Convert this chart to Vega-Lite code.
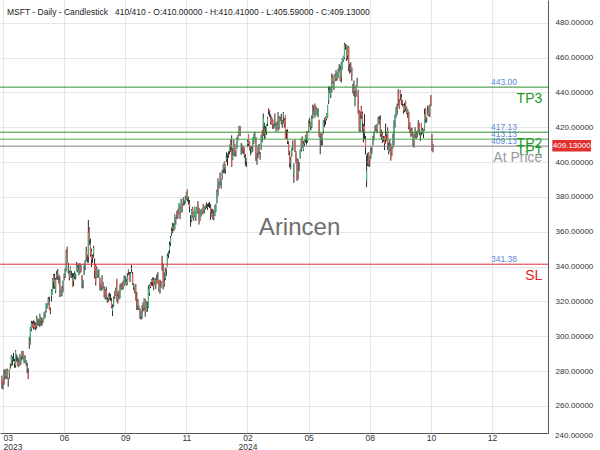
{
"$schema": "https://vega.github.io/schema/vega-lite/v6.json",
"width": 548,
"height": 433,
"autosize": {"type": "none"},
"padding": {"left": 0, "top": 0, "right": 52, "bottom": 17},
"background": "white",
"config": {"view": {"stroke": null}, "font": "Liberation Sans",
"axisY": {"orient": "right", "values": [260, 280, 300, 320, 340, 360, 380, 400, 420, 440, 460, 480], "format": ".5f", "labelFontSize": 8, "labelColor": "#333", "labelPadding": 7, "ticks": false, "domainColor": "#555", "grid": true, "gridColor": "#e6e6e6", "labelOverlap": false, "tickCount": 13}},
"title": {"text": "MSFT - Daily - Candlestick\u00a0\u00a0\u00a0410/410 - O:410.00000 - H:410.41000 - L:405.59000 - C:409.13000", "anchor": "start", "frame": "group", "orient": "top", "offset": -13, "dy": 10, "baseline": "alphabetic", "fontSize": 8.5, "fontWeight": "normal", "color": "#222", "dx": 7},
"datasets": {
"levels": [
{"name": "TP3", "v": 443.00},
{"name": "TP2", "v": 417.13},
{"name": "TP1", "v": 413.13},
{"name": "At Price", "v": 409.13},
{"name": "SL", "v": 341.38}
],
"last": [{"c": 409.13}],
"edge": [{"v": 240}],
"bars": [
{"i":0,"o":276.0,"h":277.5,"l":269.9,"c":272.2},
{"i":1,"o":274.9,"h":275.0,"l":269.5,"c":273.8},
{"i":2,"o":273.4,"h":281.0,"l":272.2,"c":272.3},
{"i":3,"o":277.9,"h":281.1,"l":275.2,"c":277.7},
{"i":4,"o":277.2,"h":281.0,"l":275.8,"c":280.6},
{"i":5,"o":280.5,"h":281.5,"l":275.5,"c":276.4},
{"i":6,"o":275.8,"h":276.1,"l":271.0,"c":275.2},
{"i":7,"o":278.6,"h":281.1,"l":275.6,"c":280.5},
{"i":8,"o":284.2,"h":284.5,"l":281.4,"c":284.1},
{"i":9,"o":283.7,"h":289.3,"l":283.0,"c":288.3},
{"i":10,"o":286.5,"h":288.3,"l":283.3,"c":287.2},
{"i":11,"o":287.2,"h":290.5,"l":285.7,"c":287.2},
{"i":12,"o":285.8,"h":287.1,"l":282.0,"c":284.3},
{"i":13,"o":283.2,"h":292.1,"l":282.0,"c":291.6},
{"i":14,"o":289.2,"h":289.6,"l":285.4,"c":289.4},
{"i":15,"o":285.9,"h":288.4,"l":283.1,"c":282.8},
{"i":16,"o":284.8,"h":287.2,"l":282.3,"c":283.5},
{"i":17,"o":283.6,"h":289.9,"l":283.2,"c":289.8},
{"i":18,"o":287.0,"h":288.5,"l":283.7,"c":286.1},
{"i":19,"o":289.9,"h":291.6,"l":286.2,"c":288.8},
{"i":20,"o":291.6,"h":291.6,"l":286.9,"c":288.4},
{"i":21,"o":285.9,"h":289.1,"l":284.5,"c":288.5},
{"i":22,"o":285.3,"h":289.0,"l":284.8,"c":286.1},
{"i":23,"o":285.0,"h":286.3,"l":283.1,"c":285.8},
{"i":24,"o":282.1,"h":284.9,"l":278.7,"c":281.8},
{"i":25,"o":279.5,"h":281.6,"l":275.4,"c":275.4},
{"i":26,"o":296.7,"h":299.6,"l":292.8,"c":295.4},
{"i":27,"o":295.9,"h":305.2,"l":295.3,"c":304.8},
{"i":28,"o":304.0,"h":308.9,"l":302.9,"c":307.3},
{"i":29,"o":306.9,"h":308.6,"l":305.1,"c":305.6},
{"i":30,"o":307.8,"h":309.2,"l":303.9,"c":305.4},
{"i":31,"o":306.6,"h":308.6,"l":304.1,"c":304.4},
{"i":32,"o":306.2,"h":307.8,"l":303.4,"c":305.4},
{"i":33,"o":305.7,"h":311.9,"l":304.3,"c":310.7},
{"i":34,"o":310.1,"h":310.2,"l":306.1,"c":308.7},
{"i":35,"o":308.0,"h":310.0,"l":306.1,"c":307.0},
{"i":36,"o":308.6,"h":313.0,"l":305.3,"c":312.3},
{"i":37,"o":310.1,"h":311.1,"l":306.3,"c":310.1},
{"i":38,"o":310.6,"h":310.7,"l":305.9,"c":309.0},
{"i":39,"o":309.1,"h":309.9,"l":307.6,"c":309.5},
{"i":40,"o":309.8,"h":313.7,"l":309.8,"c":311.7},
{"i":41,"o":312.3,"h":314.4,"l":310.7,"c":314.0},
{"i":42,"o":314.5,"h":319.0,"l":313.6,"c":318.5},
{"i":43,"o":316.7,"h":318.8,"l":316.0,"c":318.3},
{"i":44,"o":318.6,"h":322.6,"l":318.0,"c":321.2},
{"i":45,"o":320.0,"h":322.7,"l":315.3,"c":315.3},
{"i":46,"o":314.7,"h":316.5,"l":312.6,"c":313.9},
{"i":47,"o":323.2,"h":326.9,"l":320.0,"c":325.9},
{"i":48,"o":324.0,"h":333.4,"l":323.9,"c":332.9},
{"i":49,"o":335.2,"h":335.7,"l":327.3,"c":331.2},
{"i":50,"o":332.3,"h":335.9,"l":327.3,"c":328.4},
{"i":51,"o":325.9,"h":333.5,"l":324.7,"c":332.6},
{"i":52,"o":334.2,"h":337.5,"l":332.6,"c":335.4},
{"i":53,"o":335.2,"h":338.6,"l":332.3,"c":335.9},
{"i":54,"o":335.3,"h":335.4,"l":330.2,"c":333.7},
{"i":55,"o":331.6,"h":334.5,"l":322.5,"c":323.4},
{"i":56,"o":323.9,"h":326.6,"l":323.0,"c":325.3},
{"i":57,"o":324.0,"h":329.0,"l":322.9,"c":326.8},
{"i":58,"o":328.6,"h":332.0,"l":325.2,"c":331.9},
{"i":59,"o":334.5,"h":336.0,"l":332.0,"c":334.3},
{"i":60,"o":334.3,"h":339.0,"l":333.5,"c":337.3},
{"i":61,"o":337.5,"h":349.8,"l":337.2,"c":348.1},
{"i":62,"o":351.3,"h":351.5,"l":341.9,"c":342.3},
{"i":63,"o":339.3,"h":342.1,"l":335.9,"c":338.1},
{"i":64,"o":336.4,"h":337.7,"l":332.1,"c":333.6},
{"i":65,"o":334.1,"h":340.1,"l":333.8,"c":339.7},
{"i":66,"o":334.4,"h":337.5,"l":333.5,"c":335.0},
{"i":67,"o":333.7,"h":336.2,"l":328.5,"c":328.6},
{"i":68,"o":331.9,"h":336.2,"l":328.8,"c":334.6},
{"i":69,"o":334.7,"h":337.4,"l":332.8,"c":335.9},
{"i":70,"o":334.7,"h":336.1,"l":332.6,"c":335.1},
{"i":71,"o":337.8,"h":342.7,"l":337.3,"c":340.5},
{"i":72,"o":339.2,"h":340.9,"l":336.6,"c":338.0},
{"i":73,"o":335.1,"h":341.7,"l":335.0,"c":338.2},
{"i":74,"o":337.3,"h":342.0,"l":335.9,"c":341.3},
{"i":75,"o":339.3,"h":341.3,"l":336.8,"c":337.2},
{"i":76,"o":334.6,"h":335.2,"l":327.6,"c":331.8},
{"i":77,"o":331.1,"h":332.4,"l":327.5,"c":332.5},
{"i":78,"o":336.6,"h":341.7,"l":335.2,"c":337.2},
{"i":79,"o":339.6,"h":343.7,"l":338.0,"c":342.7},
{"i":80,"o":347.6,"h":351.4,"l":343.3,"c":345.2},
{"i":81,"o":345.7,"h":346.9,"l":342.2,"c":345.7},
{"i":82,"o":345.8,"h":366.8,"l":342.2,"c":359.5},
{"i":83,"o":361.8,"h":362.5,"l":352.4,"c":355.1},
{"i":84,"o":353.6,"h":356.0,"l":345.7,"c":346.9},
{"i":85,"o":349.2,"h":350.3,"l":339.8,"c":343.8},
{"i":86,"o":345.9,"h":346.9,"l":342.2,"c":345.1},
{"i":87,"o":347.1,"h":351.9,"l":345.1,"c":351.0},
{"i":88,"o":341.4,"h":344.7,"l":333.1,"c":337.8},
{"i":89,"o":340.5,"h":341.3,"l":329.1,"c":330.7},
{"i":90,"o":333.7,"h":340.0,"l":333.6,"c":338.4},
{"i":91,"o":336.9,"h":337.7,"l":333.4,"c":335.9},
{"i":92,"o":335.2,"h":338.5,"l":333.7,"c":336.3},
{"i":93,"o":333.6,"h":333.6,"l":326.4,"c":327.5},
{"i":94,"o":326.0,"h":329.9,"l":325.9,"c":326.7},
{"i":95,"o":331.9,"h":335.1,"l":326.6,"c":327.8},
{"i":96,"o":328.4,"h":331.1,"l":327.5,"c":330.1},
{"i":97,"o":326.9,"h":328.8,"l":322.3,"c":326.1},
{"i":98,"o":326.5,"h":327.1,"l":321.1,"c":322.2},
{"i":99,"o":326.0,"h":328.3,"l":321.2,"c":322.9},
{"i":100,"o":320.3,"h":322.4,"l":319.2,"c":321.0},
{"i":101,"o":321.4,"h":324.4,"l":319.8,"c":324.0},
{"i":102,"o":323.0,"h":325.1,"l":321.1,"c":321.9},
{"i":103,"o":320.8,"h":324.4,"l":320.1,"c":320.4},
{"i":104,"o":320.5,"h":321.9,"l":316.1,"c":316.9},
{"i":105,"o":314.5,"h":318.4,"l":311.6,"c":316.5},
{"i":106,"o":317.9,"h":322.8,"l":317.0,"c":321.9},
{"i":107,"o":325.5,"h":326.1,"l":321.5,"c":322.5},
{"i":108,"o":323.8,"h":327.9,"l":323.2,"c":327.0},
{"i":109,"o":332.9,"h":333.0,"l":320.0,"c":320.0},
{"i":110,"o":321.5,"h":325.4,"l":318.8,"c":323.0},
{"i":111,"o":325.7,"h":326.2,"l":321.1,"c":323.7},
{"i":112,"o":321.9,"h":329.8,"l":321.7,"c":328.4},
{"i":113,"o":328.7,"h":330.4,"l":326.5,"c":328.8},
{"i":114,"o":329.2,"h":330.9,"l":326.8,"c":327.8},
{"i":115,"o":331.3,"h":332.0,"l":326.8,"c":328.7},
{"i":116,"o":329.0,"h":334.9,"l":328.7,"c":333.6},
{"i":117,"o":333.4,"h":334.5,"l":330.2,"c":332.9},
{"i":118,"o":331.3,"h":333.1,"l":329.0,"c":329.9},
{"i":119,"o":330.1,"h":336.2,"l":329.5,"c":334.3},
{"i":120,"o":337.2,"h":338.4,"l":335.2,"c":337.9},
{"i":121,"o":335.8,"h":336.8,"l":331.5,"c":331.8},
{"i":122,"o":331.3,"h":336.9,"l":331.2,"c":336.1},
{"i":123,"o":339.2,"h":340.9,"l":336.6,"c":338.7},
{"i":124,"o":335.8,"h":336.9,"l":329.5,"c":330.2},
{"i":125,"o":327.8,"h":330.4,"l":326.4,"c":329.1},
{"i":126,"o":326.2,"h":329.0,"l":324.6,"c":328.7},
{"i":127,"o":329.5,"h":330.0,"l":320.5,"c":320.8},
{"i":128,"o":319.3,"h":325.4,"l":315.0,"c":319.5},
{"i":129,"o":321.3,"h":321.4,"l":315.2,"c":317.0},
{"i":130,"o":316.6,"h":317.7,"l":315.0,"c":317.5},
{"i":131,"o":315.1,"h":315.9,"l":310.0,"c":312.1},
{"i":132,"o":312.3,"h":314.3,"l":309.5,"c":312.8},
{"i":133,"o":311.0,"h":317.9,"l":310.0,"c":313.6},
{"i":134,"o":317.8,"h":319.5,"l":314.3,"c":315.8},
{"i":135,"o":316.3,"h":321.9,"l":315.0,"c":321.8},
{"i":136,"o":320.8,"h":321.4,"l":311.2,"c":313.4},
{"i":137,"o":314.0,"h":320.0,"l":314.0,"c":319.0},
{"i":138,"o":319.1,"h":320.0,"l":314.1,"c":319.4},
{"i":139,"o":316.6,"h":329.2,"l":316.3,"c":327.3},
{"i":140,"o":324.8,"h":330.0,"l":323.3,"c":329.8},
{"i":141,"o":330.9,"h":331.1,"l":327.7,"c":328.4},
{"i":142,"o":331.2,"h":332.8,"l":329.1,"c":332.4},
{"i":143,"o":332.4,"h":333.8,"l":328.7,"c":331.2},
{"i":144,"o":332.4,"h":333.8,"l":326.4,"c":327.7},
{"i":145,"o":331.0,"h":333.0,"l":329.5,"c":332.6},
{"i":146,"o":329.6,"h":333.6,"l":327.2,"c":332.1},
{"i":147,"o":332.5,"h":335.6,"l":330.0,"c":330.1},
{"i":148,"o":332.6,"h":336.9,"l":330.7,"c":331.3},
{"i":149,"o":331.7,"h":331.9,"l":325.5,"c":326.7},
{"i":150,"o":325.5,"h":332.5,"l":324.4,"c":329.3},
{"i":151,"o":331.3,"h":331.8,"l":327.6,"c":330.5},
{"i":152,"o":345.0,"h":346.2,"l":337.6,"c":340.7},
{"i":153,"o":340.5,"h":341.6,"l":326.9,"c":327.9},
{"i":154,"o":330.4,"h":336.7,"l":328.3,"c":329.8},
{"i":155,"o":333.4,"h":339.4,"l":332.2,"c":337.3},
{"i":156,"o":338.9,"h":339.0,"l":334.7,"c":338.1},
{"i":157,"o":339.8,"h":347.4,"l":339.7,"c":346.1},
{"i":158,"o":347.2,"h":348.8,"l":344.8,"c":348.3},
{"i":159,"o":349.6,"h":354.4,"l":347.3,"c":352.8},
{"i":160,"o":353.5,"h":357.5,"l":351.8,"c":356.5},
{"i":161,"o":359.4,"h":362.5,"l":357.6,"c":360.5},
{"i":162,"o":361.7,"h":365.2,"l":359.3,"c":363.2},
{"i":163,"o":362.3,"h":364.8,"l":360.4,"c":360.7},
{"i":164,"o":361.5,"h":370.1,"l":361.2,"c":369.7},
{"i":165,"o":368.2,"h":368.5,"l":364.0,"c":366.7},
{"i":166,"o":371.0,"h":371.9,"l":367.3,"c":370.3},
{"i":167,"o":371.3,"h":373.1,"l":367.6,"c":369.7},
{"i":168,"o":371.0,"h":376.4,"l":370.2,"c":376.2},
{"i":169,"o":373.6,"h":374.4,"l":367.2,"c":369.9},
{"i":170,"o":371.2,"h":378.9,"l":371.0,"c":377.4},
{"i":171,"o":375.7,"h":376.2,"l":371.1,"c":373.1},
{"i":172,"o":378.0,"h":379.8,"l":375.0,"c":377.9},
{"i":173,"o":377.3,"h":378.0,"l":375.1,"c":377.4},
{"i":174,"o":376.8,"h":380.6,"l":376.2,"c":378.6},
{"i":175,"o":378.4,"h":383.0,"l":378.2,"c":382.7},
{"i":176,"o":383.8,"h":384.3,"l":377.4,"c":378.9},
{"i":177,"o":378.5,"h":380.1,"l":375.5,"c":378.9},
{"i":178,"o":376.8,"h":378.2,"l":371.2,"c":374.5},
{"i":179,"o":369.1,"h":369.5,"l":362.9,"c":369.1},
{"i":180,"o":366.5,"h":373.1,"l":365.6,"c":372.5},
{"i":181,"o":373.5,"h":374.2,"l":368.0,"c":368.8},
{"i":182,"o":368.2,"h":371.5,"l":366.4,"c":371.0},
{"i":183,"o":369.2,"h":374.5,"l":368.5,"c":374.2},
{"i":184,"o":368.5,"h":371.6,"l":366.1,"c":371.3},
{"i":185,"o":370.9,"h":374.4,"l":370.5,"c":374.4},
{"i":186,"o":376.0,"h":377.6,"l":370.3,"c":374.4},
{"i":187,"o":373.3,"h":373.8,"l":364.1,"c":365.9},
{"i":188,"o":366.9,"h":372.4,"l":366.3,"c":370.7},
{"i":189,"o":369.5,"h":373.0,"l":368.7,"c":372.7},
{"i":190,"o":371.5,"h":373.3,"l":369.8,"c":373.3},
{"i":191,"o":375.0,"h":376.0,"l":370.5,"c":370.6},
{"i":192,"o":372.6,"h":374.4,"l":370.5,"c":373.5},
{"i":193,"o":373.7,"h":375.2,"l":372.7,"c":374.6},
{"i":194,"o":375.0,"h":376.9,"l":373.5,"c":374.7},
{"i":195,"o":373.7,"h":376.0,"l":372.5,"c":374.1},
{"i":196,"o":375.4,"h":376.5,"l":374.2,"c":375.3},
{"i":197,"o":376.0,"h":377.2,"l":373.5,"c":376.0},
{"i":198,"o":373.9,"h":375.9,"l":366.8,"c":370.9},
{"i":199,"o":369.0,"h":373.3,"l":368.7,"c":370.6},
{"i":200,"o":370.7,"h":373.1,"l":367.2,"c":367.9},
{"i":201,"o":369.0,"h":372.1,"l":366.5,"c":367.8},
{"i":202,"o":369.3,"h":375.2,"l":369.0,"c":374.7},
{"i":203,"o":372.0,"h":376.0,"l":371.2,"c":375.8},
{"i":204,"o":376.4,"h":384.2,"l":376.3,"c":382.8},
{"i":205,"o":386.0,"h":390.7,"l":380.4,"c":384.6},
{"i":206,"o":385.5,"h":388.7,"l":384.7,"c":388.5},
{"i":207,"o":393.7,"h":394.0,"l":386.5,"c":390.3},
{"i":208,"o":388.0,"h":390.1,"l":384.8,"c":389.5},
{"i":209,"o":391.7,"h":395.4,"l":389.9,"c":393.9},
{"i":210,"o":395.8,"h":398.7,"l":393.6,"c":398.7},
{"i":211,"o":400.0,"h":400.4,"l":393.6,"c":396.5},
{"i":212,"o":395.8,"h":399.0,"l":393.3,"c":398.9},
{"i":213,"o":401.5,"h":405.6,"l":400.0,"c":402.6},
{"i":214,"o":404.3,"h":404.7,"l":398.0,"c":404.9},
{"i":215,"o":404.4,"h":406.2,"l":402.5,"c":403.9},
{"i":216,"o":406.1,"h":410.0,"l":404.4,"c":409.7},
{"i":217,"o":412.3,"h":413.0,"l":405.8,"c":408.6},
{"i":218,"o":407.0,"h":415.3,"l":397.2,"c":397.6},
{"i":219,"o":401.8,"h":408.0,"l":401.1,"c":403.8},
{"i":220,"o":403.8,"h":412.7,"l":403.6,"c":411.2},
{"i":221,"o":409.9,"h":410.4,"l":403.4,"c":405.7},
{"i":222,"o":405.9,"h":407.0,"l":403.0,"c":405.5},
{"i":223,"o":407.4,"h":414.3,"l":407.4,"c":414.1},
{"i":224,"o":414.1,"h":415.6,"l":412.5,"c":414.1},
{"i":225,"o":415.3,"h":420.8,"l":415.1,"c":420.6},
{"i":226,"o":420.6,"h":420.7,"l":414.8,"c":415.3},
{"i":227,"o":404.9,"h":411.0,"l":404.2,"c":406.3},
{"i":228,"o":408.1,"h":410.0,"l":405.0,"c":409.5},
{"i":229,"o":408.1,"h":409.1,"l":404.6,"c":406.6},
{"i":230,"o":408.0,"h":408.3,"l":402.4,"c":404.1},
{"i":231,"o":403.2,"h":404.5,"l":398.0,"c":402.8},
{"i":232,"o":400.2,"h":402.3,"l":397.2,"c":402.2},
{"i":233,"o":410.2,"h":412.8,"l":408.6,"c":411.7},
{"i":234,"o":415.7,"h":415.9,"l":409.0,"c":410.3},
{"i":235,"o":411.5,"h":412.0,"l":406.8,"c":407.5},
{"i":236,"o":408.0,"h":409.0,"l":403.9,"c":407.5},
{"i":237,"o":405.9,"h":409.3,"l":405.3,"c":407.7},
{"i":238,"o":408.6,"h":414.2,"l":405.9,"c":413.6},
{"i":239,"o":411.3,"h":415.9,"l":410.4,"c":415.5},
{"i":240,"o":413.4,"h":417.4,"l":412.5,"c":414.9},
{"i":241,"o":414.0,"h":414.3,"l":400.6,"c":402.7},
{"i":242,"o":403.0,"h":405.2,"l":398.4,"c":402.1},
{"i":243,"o":406.1,"h":409.8,"l":402.2,"c":409.1},
{"i":244,"o":408.0,"h":410.4,"l":404.3,"c":406.2},
{"i":245,"o":403.8,"h":405.7,"l":401.3,"c":404.5},
{"i":246,"o":407.6,"h":415.6,"l":407.0,"c":415.3},
{"i":247,"o":418.1,"h":418.2,"l":411.4,"c":415.1},
{"i":248,"o":420.2,"h":427.8,"l":415.0,"c":425.2},
{"i":249,"o":419.3,"h":422.6,"l":412.8,"c":416.4},
{"i":250,"o":414.3,"h":420.7,"l":413.8,"c":417.3},
{"i":251,"o":417.8,"h":421.7,"l":415.6,"c":421.4},
{"i":252,"o":422.0,"h":426.0,"l":420.7,"c":425.2},
{"i":253,"o":429.8,"h":430.8,"l":427.2,"c":429.4},
{"i":254,"o":429.7,"h":429.9,"l":425.9,"c":428.7},
{"i":255,"o":425.2,"h":427.4,"l":421.6,"c":422.9},
{"i":256,"o":425.6,"h":426.0,"l":421.5,"c":421.7},
{"i":257,"o":424.4,"h":424.5,"l":419.0,"c":421.4},
{"i":258,"o":421.0,"h":421.9,"l":419.1,"c":420.7},
{"i":259,"o":424.0,"h":427.9,"l":420.4,"c":424.6},
{"i":260,"o":420.1,"h":422.4,"l":417.5,"c":421.4},
{"i":261,"o":419.7,"h":423.3,"l":419.1,"c":420.5},
{"i":262,"o":425.0,"h":428.7,"l":417.6,"c":417.9},
{"i":263,"o":420.0,"h":426.3,"l":418.8,"c":425.5},
{"i":264,"o":425.2,"h":426.0,"l":423.7,"c":424.6},
{"i":265,"o":426.4,"h":427.7,"l":421.6,"c":426.3},
{"i":266,"o":422.2,"h":424.0,"l":419.7,"c":423.3},
{"i":267,"o":425.8,"h":428.7,"l":422.1,"c":427.9},
{"i":268,"o":424.1,"h":425.2,"l":419.8,"c":421.9},
{"i":269,"o":426.6,"h":426.8,"l":413.4,"c":413.6},
{"i":270,"o":414.6,"h":418.4,"l":413.3,"c":414.6},
{"i":271,"o":417.3,"h":418.9,"l":410.3,"c":411.8},
{"i":272,"o":410.6,"h":411.9,"l":404.0,"c":404.3},
{"i":273,"o":404.0,"h":406.5,"l":397.0,"c":399.1},
{"i":274,"o":400.1,"h":402.9,"l":395.8,"c":401.0},
{"i":275,"o":404.2,"h":408.2,"l":403.1,"c":407.6},
{"i":276,"o":409.6,"h":412.5,"l":406.6,"c":409.1},
{"i":277,"o":394.0,"h":399.2,"l":388.0,"c":399.0},
{"i":278,"o":412.2,"h":413.0,"l":405.8,"c":406.3},
{"i":279,"o":405.3,"h":406.3,"l":399.2,"c":402.3},
{"i":280,"o":401.5,"h":402.2,"l":389.2,"c":389.3},
{"i":281,"o":392.6,"h":401.7,"l":390.0,"c":394.9},
{"i":282,"o":397.7,"h":399.9,"l":394.7,"c":397.8},
{"i":283,"o":402.3,"h":407.2,"l":401.9,"c":406.7},
{"i":284,"o":408.8,"h":413.8,"l":406.0,"c":413.5},
{"i":285,"o":414.1,"h":414.8,"l":408.4,"c":409.3},
{"i":286,"o":407.0,"h":412.1,"l":406.3,"c":410.5},
{"i":287,"o":410.6,"h":412.7,"l":409.0,"c":412.3},
{"i":288,"o":412.9,"h":415.4,"l":411.1,"c":414.7},
{"i":289,"o":417.6,"h":417.7,"l":410.0,"c":413.7},
{"i":290,"o":412.0,"h":417.5,"l":411.1,"c":416.6},
{"i":291,"o":417.9,"h":423.8,"l":417.3,"c":423.1},
{"i":292,"o":421.8,"h":425.4,"l":420.4,"c":421.0},
{"i":293,"o":422.5,"h":422.9,"l":418.1,"c":420.2},
{"i":294,"o":420.2,"h":426.8,"l":419.3,"c":425.3},
{"i":295,"o":426.8,"h":433.0,"l":424.9,"c":429.0},
{"i":296,"o":430.1,"h":432.4,"l":427.1,"c":430.5},
{"i":297,"o":433.0,"h":433.6,"l":425.4,"c":427.0},
{"i":298,"o":427.2,"h":432.0,"l":427.2,"c":430.2},
{"i":299,"o":429.6,"h":430.8,"l":426.6,"c":430.3},
{"i":300,"o":425.7,"h":430.9,"l":425.7,"c":429.2},
{"i":301,"o":424.3,"h":424.3,"l":414.2,"c":414.7},
{"i":302,"o":416.8,"h":416.8,"l":404.5,"c":415.1},
{"i":303,"o":415.5,"h":416.4,"l":408.9,"c":413.5},
{"i":304,"o":412.4,"h":416.4,"l":409.7,"c":416.1},
{"i":305,"o":417.8,"h":424.1,"l":416.3,"c":424.0},
{"i":306,"o":424.0,"h":425.3,"l":420.0,"c":424.5},
{"i":307,"o":426.2,"h":426.3,"l":421.4,"c":423.9},
{"i":308,"o":424.7,"h":428.1,"l":423.9,"c":427.9},
{"i":309,"o":425.5,"h":432.8,"l":425.3,"c":432.7},
{"i":310,"o":435.3,"h":443.4,"l":433.3,"c":441.1},
{"i":311,"o":440.9,"h":443.4,"l":439.4,"c":441.6},
{"i":312,"o":438.3,"h":443.1,"l":436.7,"c":442.6},
{"i":313,"o":442.6,"h":450.9,"l":440.0,"c":448.4},
{"i":314,"o":449.7,"h":450.0,"l":444.9,"c":446.3},
{"i":315,"o":446.3,"h":446.5,"l":441.3,"c":445.7},
{"i":316,"o":447.4,"h":450.6,"l":446.5,"c":449.8},
{"i":317,"o":449.8,"h":452.8,"l":446.4,"c":447.7},
{"i":318,"o":448.3,"h":451.4,"l":446.8,"c":451.0},
{"i":319,"o":449.0,"h":453.6,"l":448.2,"c":452.2},
{"i":320,"o":452.2,"h":456.2,"l":451.8,"c":452.9},
{"i":321,"o":453.1,"h":455.4,"l":446.4,"c":447.0},
{"i":322,"o":448.7,"h":457.4,"l":445.7,"c":456.7},
{"i":323,"o":453.2,"h":459.6,"l":453.1,"c":459.3},
{"i":324,"o":458.2,"h":461.0,"l":457.5,"c":460.8},
{"i":325,"o":459.6,"h":468.4,"l":459.0,"c":467.6},
{"i":326,"o":466.6,"h":467.7,"l":464.5,"c":466.2},
{"i":327,"o":467.0,"h":467.3,"l":458.0,"c":459.5},
{"i":328,"o":461.2,"h":466.5,"l":458.8,"c":466.3},
{"i":329,"o":466.0,"h":466.7,"l":452.1,"c":454.7},
{"i":330,"o":454.3,"h":456.4,"l":450.7,"c":453.6},
{"i":331,"o":453.3,"h":457.3,"l":451.4,"c":454.0},
{"i":332,"o":454.2,"h":454.3,"l":446.7,"c":449.5},
{"i":333,"o":442.6,"h":444.9,"l":439.4,"c":443.5},
{"i":334,"o":444.3,"h":446.8,"l":437.7,"c":440.4},
{"i":335,"o":433.1,"h":441.1,"l":432.0,"c":437.1},
{"i":336,"o":441.0,"h":444.0,"l":437.4,"c":442.9},
{"i":337,"o":443.9,"h":448.4,"l":443.5,"c":444.9},
{"i":338,"o":440.5,"h":441.5,"l":427.6,"c":428.9},
{"i":339,"o":428.8,"h":429.8,"l":417.5,"c":418.4},
{"i":340,"o":418.2,"h":428.9,"l":417.3,"c":425.3},
{"i":341,"o":431.6,"h":432.2,"l":424.7,"c":426.7},
{"i":342,"o":427.7,"h":429.0,"l":417.4,"c":422.9},
{"i":343,"o":420.5,"h":421.8,"l":411.2,"c":418.4},
{"i":344,"o":420.8,"h":427.5,"l":413.1,"c":417.1},
{"i":345,"o":412.5,"h":415.0,"l":404.3,"c":408.5},
{"i":346,"o":389.2,"h":404.0,"l":385.6,"c":395.2},
{"i":347,"o":400.3,"h":405.2,"l":397.7,"c":399.6},
{"i":348,"o":405.6,"h":405.7,"l":397.4,"c":398.4},
{"i":349,"o":401.3,"h":403.5,"l":397.3,"c":402.7},
{"i":350,"o":402.8,"h":408.3,"l":401.8,"c":406.0},
{"i":351,"o":407.1,"h":408.8,"l":404.6,"c":406.8},
{"i":352,"o":409.6,"h":415.0,"l":409.6,"c":414.0},
{"i":353,"o":414.8,"h":417.7,"l":412.4,"c":416.9},
{"i":354,"o":419.8,"h":421.1,"l":417.7,"c":421.0},
{"i":355,"o":420.6,"h":421.3,"l":417.5,"c":418.5},
{"i":356,"o":419.0,"h":421.8,"l":416.5,"c":421.5},
{"i":357,"o":421.7,"h":425.9,"l":421.6,"c":424.8},
{"i":358,"o":424.1,"h":426.4,"l":421.6,"c":424.1},
{"i":359,"o":424.4,"h":426.8,"l":414.6,"c":415.6},
{"i":360,"o":416.3,"h":418.5,"l":412.8,"c":416.8},
{"i":361,"o":416.4,"h":417.3,"l":410.9,"c":413.5},
{"i":362,"o":412.9,"h":414.9,"l":411.7,"c":413.8},
{"i":363,"o":414.9,"h":415.0,"l":406.9,"c":410.6},
{"i":364,"o":414.9,"h":422.1,"l":410.6,"c":413.1},
{"i":365,"o":415.6,"h":417.5,"l":412.1,"c":417.1},
{"i":366,"o":417.9,"h":419.9,"l":407.0,"c":409.4},
{"i":367,"o":405.9,"h":411.2,"l":404.4,"c":408.9},
{"i":368,"o":407.6,"h":413.1,"l":406.1,"c":408.4},
{"i":369,"o":409.1,"h":410.7,"l":400.8,"c":401.7},
{"i":370,"o":407.2,"h":408.7,"l":403.5,"c":405.7},
{"i":371,"o":408.2,"h":416.3,"l":407.8,"c":414.2},
{"i":372,"o":415.5,"h":424.0,"l":409.6,"c":423.0},
{"i":373,"o":423.0,"h":427.4,"l":419.8,"c":427.0},
{"i":374,"o":425.8,"h":431.8,"l":425.5,"c":430.6},
{"i":375,"o":430.6,"h":433.5,"l":427.1,"c":431.3},
{"i":376,"o":440.2,"h":441.9,"l":432.3,"c":435.2},
{"i":377,"o":435.0,"h":436.0,"l":430.4,"c":430.8},
{"i":378,"o":441.2,"h":441.3,"l":435.3,"c":438.7},
{"i":379,"o":437.2,"h":439.0,"l":432.8,"c":435.3},
{"i":380,"o":434.7,"h":435.4,"l":432.0,"c":433.5},
{"i":381,"o":433.0,"h":433.3,"l":427.8,"c":429.2},
{"i":382,"o":429.8,"h":434.0,"l":428.6,"c":432.1},
{"i":383,"o":435.1,"h":435.3,"l":429.1,"c":431.3},
{"i":384,"o":431.5,"h":431.9,"l":427.5,"c":428.0},
{"i":385,"o":428.2,"h":430.4,"l":425.4,"c":430.3},
{"i":386,"o":428.5,"h":428.9,"l":418.8,"c":420.7},
{"i":387,"o":422.6,"h":422.8,"l":416.7,"c":417.1},
{"i":388,"o":417.6,"h":419.6,"l":414.3,"c":416.5},
{"i":389,"o":418.2,"h":419.8,"l":415.0,"c":416.1},
{"i":390,"o":416.0,"h":417.1,"l":409.0,"c":409.5},
{"i":391,"o":410.9,"h":415.7,"l":408.2,"c":414.7},
{"i":392,"o":415.9,"h":420.0,"l":413.8,"c":417.5},
{"i":393,"o":415.2,"h":417.4,"l":413.2,"c":415.8},
{"i":394,"o":416.1,"h":418.0,"l":414.1,"c":416.3},
{"i":395,"o":417.8,"h":424.0,"l":417.5,"c":419.1},
{"i":396,"o":422.2,"h":422.5,"l":415.3,"c":418.7},
{"i":397,"o":415.2,"h":416.7,"l":412.1,"c":416.1},
{"i":398,"o":422.4,"h":422.5,"l":415.3,"c":416.7},
{"i":399,"o":417.1,"h":419.6,"l":416.3,"c":418.2},
{"i":400,"o":416.1,"h":419.0,"l":413.8,"c":418.8},
{"i":401,"o":418.5,"h":430.6,"l":418.0,"c":427.5},
{"i":402,"o":430.9,"h":431.1,"l":422.5,"c":424.6},
{"i":403,"o":425.3,"h":425.8,"l":422.7,"c":424.7},
{"i":404,"o":426.8,"h":432.5,"l":426.6,"c":428.2},
{"i":405,"o":431.7,"h":431.9,"l":426.3,"c":426.6},
{"i":406,"o":428.0,"h":433.0,"l":425.8,"c":432.0},
{"i":407,"o":437.4,"h":438.5,"l":432.1,"c":432.5},
{"i":408,"o":415.4,"h":416.2,"l":406.3,"c":406.4},
{"i":409,"o":410.0,"h":410.41,"l":405.59,"c":409.13}
]
},
"layer": [
{
"data": {"name": "bars"},
"mark": {"type": "rule", "color": "#2a2a2a", "strokeWidth": 1},
"encoding": {
"x": {"field": "i", "type": "quantitative", "title": null,
"scale": {"domain": [-1.8, 518.1], "nice": false, "zero": false},
"axis": {"orient": "bottom", "values": [1, 59, 117, 175, 233, 291, 349, 407, 465],
"labelExpr": "datum.value == 1 ? ['03','2023'] : datum.value == 59 ? '06' : datum.value == 117 ? '09' : datum.value == 175 ? '11' : datum.value == 233 ? ['02','2024'] : datum.value == 291 ? '05' : datum.value == 349 ? '08' : datum.value == 407 ? '10' : '12'",
"labelFlush": 5, "labelFontSize": 8.5, "labelColor": "#333", "labelLineHeight": 9, "labelPadding": 0,
"ticks": false, "domainColor": "#555", "grid": true, "gridColor": "#e6e6e6", "labelOverlap": false, "title": null}},
"y": {"field": "l", "type": "quantitative", "title": null,
"scale": {"domain": [244.5, 493.0], "nice": false, "zero": false},
"axis": {"orient": "right", "values": [260, 280, 300, 320, 340, 360, 380, 400, 420, 440, 460, 480], "format": ".5f", "labelOverlap": false, "title": null}},
"y2": {"field": "h"}
}
},
{
"data": {"name": "bars"},
"mark": {"type": "rule", "strokeWidth": 1.1},
"encoding": {
"x": {"field": "i", "type": "quantitative", "title": null},
"y": {"field": "o", "type": "quantitative", "title": null, "axis": {"orient": "right", "values": [260, 280, 300, 320, 340, 360, 380, 400, 420, 440, 460, 480], "format": ".5f", "labelOverlap": false, "title": null}},
"y2": {"field": "c"},
"color": {"condition": {"test": "datum.c >= datum.o", "value": "#4cb87e"}, "value": "#e2605a"}
}
},
{
"data": {"name": "levels"},
"mark": {"type": "rule", "strokeWidth": 1},
"encoding": {
"y": {"field": "v", "type": "quantitative", "title": null, "axis": {"orient": "right", "values": [260, 280, 300, 320, 340, 360, 380, 400, 420, 440, 460, 480], "format": ".5f", "labelOverlap": false, "title": null}},
"stroke": {"field": "name", "type": "nominal", "legend": null,
"scale": {"domain": ["TP3", "TP2", "TP1", "At Price", "SL"], "range": ["#2f8f2f", "#2f8f2f", "#4fa84f", "#808080", "#e03030"]}}
}
},
{
"data": {"name": "levels"},
"mark": {"type": "text", "align": "left", "baseline": "alphabetic", "dy": -2.5, "fontSize": 8.5, "color": "#5a87d8"},
"encoding": {
"x": {"datum": 464, "type": "quantitative"},
"y": {"field": "v", "type": "quantitative", "title": null, "axis": {"orient": "right", "values": [260, 280, 300, 320, 340, 360, 380, 400, 420, 440, 460, 480], "format": ".5f", "labelOverlap": false, "title": null}},
"text": {"field": "v", "type": "quantitative", "format": ".2f"}
}
},
{
"data": {"name": "levels"},
"mark": {"type": "text", "align": "right", "baseline": "alphabetic", "dy": 15.5, "fontSize": 14},
"encoding": {
"x": {"datum": 512.7, "type": "quantitative"},
"y": {"field": "v", "type": "quantitative", "title": null, "axis": {"orient": "right", "values": [260, 280, 300, 320, 340, 360, 380, 400, 420, 440, 460, 480], "format": ".5f", "labelOverlap": false, "title": null}},
"text": {"field": "name", "type": "nominal"},
"fill": {"field": "name", "type": "nominal", "legend": null,
"scale": {"domain": ["TP3", "TP2", "TP1", "At Price", "SL"], "range": ["#249a24", "#249a24", "#249a24", "#9a9a9a", "#e02020"]}}
}
},
{
"data": {"values": [{"t": "Arincen"}]},
"mark": {"type": "text", "align": "center", "baseline": "alphabetic", "fontSize": 24, "color": "#6e6e6e"},
"encoding": {
"x": {"datum": 282.4, "type": "quantitative"},
"y": {"datum": 358.2, "type": "quantitative", "axis": {"orient": "right", "values": [260, 280, 300, 320, 340, 360, 380, 400, 420, 440, 460, 480], "format": ".5f", "labelOverlap": false, "title": null}},
"text": {"field": "t", "type": "nominal"}
}
},
{
"data": {"name": "edge"},
"mark": {"type": "text", "align": "left", "baseline": "middle", "fontSize": 8, "color": "#333"},
"encoding": {
"x": {"datum": 524.8, "type": "quantitative"},
"y": {"datum": 242.5, "type": "quantitative", "axis": {"orient": "right", "values": [260, 280, 300, 320, 340, 360, 380, 400, 420, 440, 460, 480], "format": ".5f", "labelOverlap": false, "title": null}},
"text": {"field": "v", "type": "quantitative", "format": ".5f"}
}
},
{
"data": {"name": "last"},
"mark": {"type": "rect", "color": "#e03131"},
"encoding": {
"x": {"datum": 522.2, "type": "quantitative"},
"x2": {"datum": 558.9},
"y": {"datum": 412.7, "type": "quantitative", "axis": {"orient": "right", "values": [260, 280, 300, 320, 340, 360, 380, 400, 420, 440, 460, 480], "format": ".5f", "labelOverlap": false, "title": null}},
"y2": {"datum": 406.0}
}
},
{
"data": {"name": "last"},
"mark": {"type": "text", "align": "center", "baseline": "middle", "fontSize": 8, "color": "white"},
"encoding": {
"x": {"datum": 540.6, "type": "quantitative"},
"y": {"field": "c", "type": "quantitative", "title": null, "axis": {"orient": "right", "values": [260, 280, 300, 320, 340, 360, 380, 400, 420, 440, 460, 480], "format": ".5f", "labelOverlap": false, "title": null}},
"text": {"field": "c", "type": "quantitative", "format": ".5f"}
}
}
]
}
